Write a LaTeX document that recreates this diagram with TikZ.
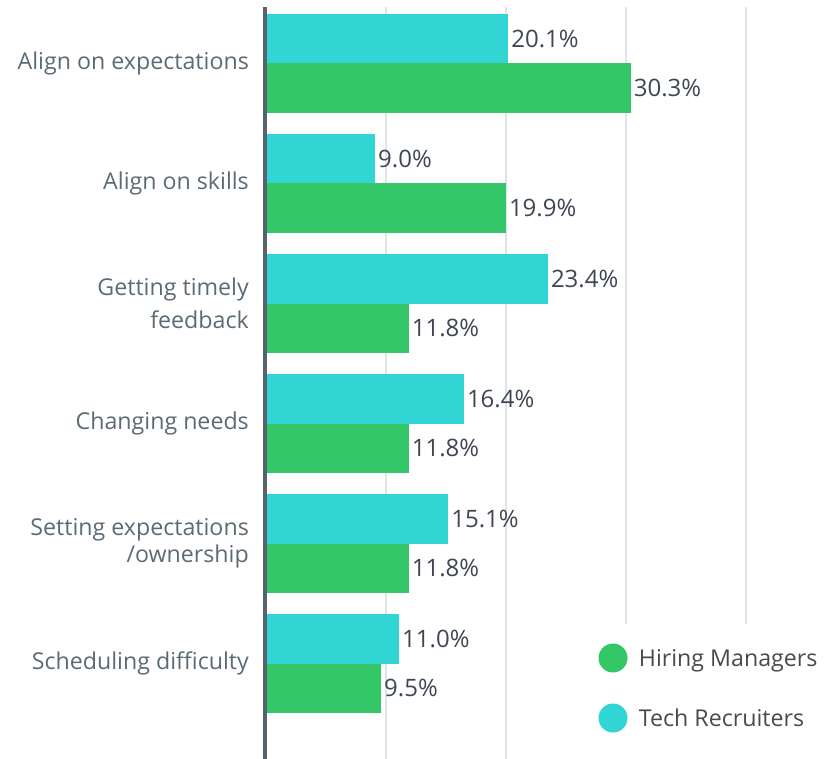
\documentclass[tikz,border=0pt]{standalone}
\usepackage{fontspec}
\setmainfont{Open Sans}
\usetikzlibrary{positioning}
\definecolor{recruiter}{HTML}{31D5D3}
\definecolor{manager}{HTML}{34C767}
\definecolor{axisgray}{HTML}{56646B}
\definecolor{gridgray}{HTML}{DFE4E8}
\definecolor{labelgray}{HTML}{5B6B73}
\definecolor{valuegray}{HTML}{3E4652}
\definecolor{legendgray}{HTML}{4A4A4A}
\begin{document}
\begin{tikzpicture}[x=1pt,y=-1pt,
		catlabel/.style={anchor=east,align=right,inner sep=0pt,text=labelgray,font=\fontsize{23.2}{31}\selectfont},
		barvalue/.style={anchor=west,inner sep=0pt,xshift=3pt,text=valuegray,font=\fontsize{24}{28}\selectfont},
		legenddot/.style={circle,inner sep=0pt,minimum size=29pt},
		legendtext/.style={inner sep=0pt,text height=16.5pt,text depth=0pt,text=legendgray,font=\fontsize{23.2}{31}\selectfont}]
				\useasboundingbox (0,0) rectangle (832,759);
				% grid
				\foreach \g in {386,506} \draw[gridgray,line width=1.5pt] (\g,7)--(\g,759);
				\foreach \g in {626,746} \draw[gridgray,line width=1.5pt] (\g,7)--(\g,624);
				% bars: tech recruiters / hiring managers
				\foreach \i/\tr/\hm [evaluate=\i as \yt using 14+120*\i] in {0/20.1/30.3,1/9.0/19.9,2/23.4/11.8,3/16.4/11.8,4/15.1/11.8,5/11.0/9.5}{
					\fill[recruiter] (264,\yt) rectangle ({267+12*\tr},{\yt+49.5});
					\node[barvalue] (tr\i) at ({267+12*\tr},{\yt+24.75}) {\tr\%};
					\fill[manager] (264,{\yt+49.5}) rectangle ({267+12*\hm},{\yt+99});
					\node[barvalue] (hm\i) at ({267+12*\hm},{\yt+74.25}) {\hm\%};
				}
				\draw[axisgray,line width=4pt] (265,7)--(265,759);
				% categories
				\node[catlabel] (expect) at (249,63.5) {Align on expectations};
				\node[catlabel] (skills) at (249,183.5) {Align on skills};
				\node[catlabel] (timely) at (249,303.5) {Getting timely\\[1.5pt]feedback};
				\node[catlabel] (needs) at (249,423.5) {Changing needs};
				\node[catlabel] (owner) at (249,543.5) {Setting expectations\\[-3.5pt]/ownership};
				\node[catlabel] (sched) at (249,663.5) {Scheduling difficulty};
				% legend
				\node[legenddot,fill=manager] (hmdot) at (613,658) {};
				\node[legendtext,right=11pt of hmdot] (hmtext) {Hiring Managers};
				\node[legenddot,fill=recruiter] (trdot) at (613,718) {};
				\node[legendtext,right=11pt of trdot] (trtext) {Tech Recruiters};
			\end{tikzpicture}
\end{document}
